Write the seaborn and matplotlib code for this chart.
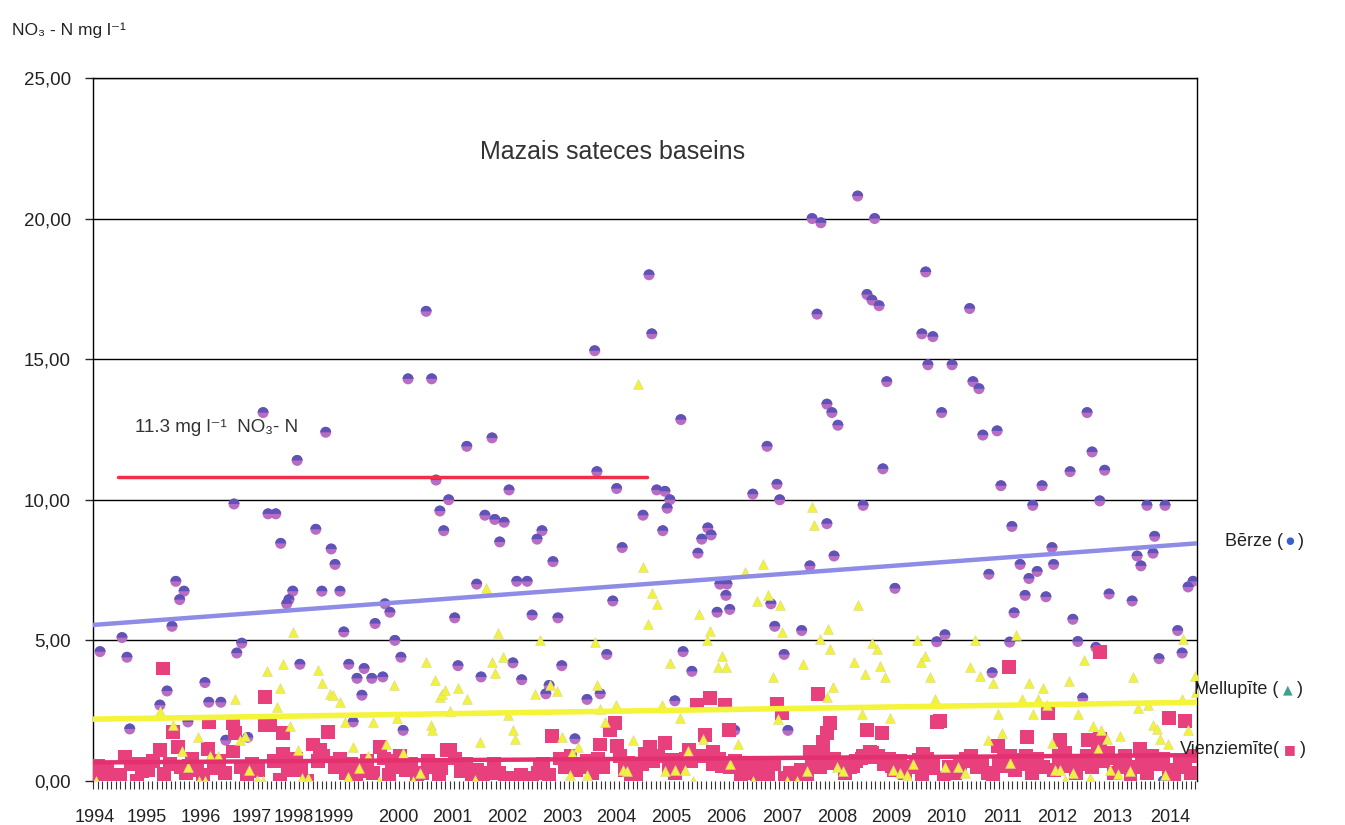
#!/usr/bin/env python3

import numpy as np
import pandas as pd
import seaborn as sns
import matplotlib
matplotlib.use("Agg")
import matplotlib.pyplot as plt
from matplotlib.markers import MarkerStyle
from matplotlib.ticker import MultipleLocator, FuncFormatter, FixedLocator

# Bērze (circles) - decimal year / NO3-N mg l-1
berze_year = [
    1994.13, 1994.53, 1994.62, 1994.67, 1995.22, 1995.35, 1995.44, 1995.51, 1995.58, 1995.66,
    1995.73, 1996.04, 1996.11, 1996.33, 1996.42, 1996.57, 1996.62, 1996.71, 1996.82, 1997.10,
    1997.19, 1997.33, 1997.42, 1997.53, 1997.57, 1997.64, 1997.72, 1997.77, 1998.06, 1998.17,
    1998.24, 1998.34, 1998.41, 1998.50, 1998.57, 1998.66, 1998.74, 1998.81, 1998.90, 1998.94,
    1999.08, 1999.14, 1999.28, 1999.32, 1999.41, 1999.50, 1999.61, 1999.65, 1999.74, 2000.07,
    2000.17, 2000.25, 2000.32, 2000.39, 2000.48, 2000.59, 2000.65, 2000.81, 2000.99, 2001.07,
    2001.14, 2001.27, 2001.32, 2001.41, 2001.49, 2001.58, 2001.65, 2001.72, 2001.81, 2001.91,
    2002.00, 2002.09, 2002.18, 2002.25, 2002.31, 2002.38, 2002.47, 2002.54, 2002.78, 2003.00,
    2003.14, 2003.18, 2003.24, 2003.36, 2003.47, 2003.54, 2003.64, 2004.02, 2004.13, 2004.18,
    2004.27, 2004.38, 2004.42, 2004.46, 2004.51, 2004.60, 2004.71, 2004.75, 2004.91, 2005.02,
    2005.09, 2005.20, 2005.26, 2005.37, 2005.42, 2005.53, 2005.55, 2005.60, 2005.69, 2006.02,
    2006.28, 2006.35, 2006.42, 2006.46, 2006.51, 2006.59, 2006.66, 2006.91, 2007.06, 2007.10,
    2007.19, 2007.26, 2007.37, 2007.37, 2007.46, 2007.50, 2007.57, 2007.93, 2008.03, 2008.10,
    2008.19, 2008.24, 2008.32, 2008.39, 2008.46, 2008.61, 2009.10, 2009.17, 2009.21, 2009.30,
    2009.37, 2009.46, 2009.52, 2009.65, 2009.97, 2010.03, 2010.14, 2010.21, 2010.32, 2010.38,
    2010.47, 2010.54, 2010.70, 2010.74, 2010.78, 2010.89, 2010.98, 2011.05, 2011.12, 2011.20,
    2011.29, 2011.36, 2011.47, 2011.50, 2011.80, 2011.85, 2011.94, 2012.03, 2012.11, 2012.20,
    2012.27, 2012.34, 2012.43, 2012.51, 2012.93, 2013.02, 2013.09, 2013.20, 2013.31, 2013.34,
    2013.42, 2013.53, 2013.76, 2013.84, 2013.95, 2014.04,
    2000.90, 2007.00, 2012.90, 2013.50, 2011.60, 2009.80,
]
berze_no3 = [
    4.60, 5.10, 4.40, 1.85, 2.70, 3.20, 5.50, 7.10, 6.45, 6.75,
    2.10, 3.50, 2.80, 2.80, 1.45, 9.85, 4.55, 4.90, 1.55, 13.10,
    9.50, 9.50, 8.45, 6.30, 6.45, 6.75, 11.40, 4.15, 8.95, 6.75,
    12.40, 8.25, 7.70, 6.75, 5.30, 4.15, 2.10, 3.65, 3.05, 4.00,
    3.65, 5.60, 3.70, 6.30, 6.00, 5.00, 4.40, 1.80, 14.30, 16.70,
    14.30, 10.70, 9.60, 8.90, 10.00, 5.80, 4.10, 11.90, 7.00, 3.70,
    9.45, 12.20, 9.30, 8.50, 9.20, 10.35, 4.20, 7.10, 3.60, 7.10,
    5.90, 8.60, 8.90, 3.10, 3.40, 7.80, 5.80, 4.10, 1.50, 2.90,
    15.30, 11.00, 3.10, 4.50, 6.40, 10.40, 8.30, 9.45, 18.00, 15.90,
    10.35, 8.90, 10.30, 9.70, 10.00, 2.85, 12.85, 4.60, 3.90, 8.10,
    8.60, 9.00, 8.75, 6.00, 7.00, 6.60, 7.00, 6.10, 1.80, 10.20,
    11.90, 6.30, 5.50, 10.55, 10.00, 4.50, 1.80, 5.35, 7.65, 20.00,
    16.60, 19.85, 13.40, 9.15, 13.10, 8.00, 12.65, 20.80, 9.80, 17.30,
    17.10, 20.00, 16.90, 11.10, 14.20, 6.85, 15.90, 18.10, 14.80, 15.80,
    4.95, 13.10, 5.20, 14.80, 16.80, 14.20, 13.95, 12.30, 7.35, 3.85,
    12.45, 10.50, 4.94, 9.05, 5.98, 7.70, 6.60, 7.20, 9.80, 7.45,
    10.50, 6.55, 8.30, 7.70, 11.00, 5.75, 4.96, 2.95, 13.10, 11.70,
    4.75, 9.96, 11.05, 6.65, 6.40, 8.00, 7.65, 9.80, 8.10, 8.70,
    4.35, 9.80, 5.35, 4.55, 6.90, 7.10,
    0.30, 0.10, 0.20, 0.00, 0.90, 0.40,
]

# Mellupīte (triangles)
mellupite_year = [
    1994.05, 1995.22, 1995.46, 1995.62, 1995.73, 1995.91, 1995.93, 1996.04, 1996.13, 1996.28,
    1996.59, 1996.68, 1996.77, 1996.84, 1996.99, 1997.10, 1997.17, 1997.35, 1997.41, 1997.46,
    1997.59, 1997.64, 1997.73, 1997.81, 1997.92, 1998.10, 1998.17, 1998.32, 1998.37, 1998.50,
    1998.59, 1998.64, 1998.74, 1998.85, 1999.01, 1999.10, 1999.21, 1999.34, 1999.48, 1999.54,
    1999.65, 1999.83, 1999.96, 2000.07, 2000.16, 2000.17, 2000.23, 2000.32, 2000.36, 2000.41,
    2000.50, 2000.65, 2000.81, 2000.96, 2001.05, 2001.16, 2001.27, 2001.32, 2001.38, 2001.47,
    2001.56, 2001.65, 2001.69, 2002.05, 2002.14, 2002.32, 2002.45, 2002.54, 2002.69, 2002.72,
    2002.83, 2003.00, 2003.14, 2003.18, 2003.24, 2003.33, 2003.53, 2003.65, 2003.73, 2003.84,
    2003.93, 2004.02, 2004.11, 2004.18, 2004.27, 2004.36, 2004.42, 2004.51, 2004.60, 2004.69,
    2004.78, 2004.84, 2004.93, 2005.04, 2005.11, 2005.18, 2005.24, 2005.38, 2005.46, 2005.53,
    2005.60, 2005.75, 2005.88, 2006.02, 2006.09, 2006.20, 2006.30, 2006.39, 2006.48, 2006.51,
    2006.55, 2006.64, 2006.82, 2006.93, 2007.01, 2007.10, 2007.13, 2007.24, 2007.37, 2007.39,
    2007.42, 2007.48, 2007.55, 2007.66, 2007.86, 2007.93, 2008.01, 2008.06, 2008.19, 2008.28,
    2008.34, 2008.43, 2008.52, 2008.57, 2008.70, 2008.83, 2008.94, 2009.01, 2009.08, 2009.15,
    2009.25, 2009.34, 2009.52, 2009.76, 2009.88, 2009.97, 2010.07, 2010.16, 2010.30, 2010.39,
    2010.48, 2010.56, 2010.70, 2010.81, 2010.92, 2011.05, 2011.12, 2011.21, 2011.30, 2011.38,
    2011.47, 2011.52, 2011.61, 2011.71, 2011.78, 2011.85, 2011.94, 2012.05, 2012.16, 2012.22,
    2012.31, 2012.36, 2012.47, 2012.53, 2012.67, 2012.71, 2012.89, 2012.94, 2013.03, 2013.22,
    2013.31, 2013.38, 2013.44, 2013.53, 2013.58, 2013.84, 2013.86, 2013.95, 2014.08, 2014.10,
]
mellupite_no3 = [
    0.00, 2.50, 2.00, 1.05, 0.50, 1.55, 0.00, 0.00, 0.90, 0.90,
    2.90, 1.45, 1.60, 0.40, 0.05, 0.00, 3.90, 2.65, 3.30, 4.15,
    1.95, 5.30, 1.10, 0.10, 0.10, 3.95, 3.50, 3.10, 3.05, 2.80,
    2.10, 0.15, 1.20, 0.45, 0.90, 2.10, 0.00, 1.30, 3.40, 2.25,
    1.00, 0.00, 0.30, 4.25, 2.00, 1.80, 3.60, 3.00, 3.10, 3.25,
    2.50, 3.30, 2.90, 0.05, 1.40, 6.85, 4.25, 3.85, 5.25, 4.40,
    2.35, 1.80, 1.50, 3.10, 5.00, 3.40, 3.20, 1.55, 0.20, 1.00,
    1.20, 0.20, 4.95, 3.40, 2.55, 2.10, 2.70, 0.40, 0.35, 1.45,
    14.10, 7.60, 5.60, 6.70, 6.30, 2.70, 0.35, 4.20, 0.40, 2.25,
    0.40, 1.05, 0.00, 5.95, 1.50, 5.00, 5.35, 4.05, 4.45, 4.05,
    0.60, 1.30, 7.45, 0.00, 6.40, 7.70, 6.60, 3.70, 2.20, 6.25,
    5.30, 0.00, 0.00, 4.15, 0.35, 9.75, 9.10, 5.05, 3.00, 5.40,
    4.70, 3.35, 0.50, 0.35, 4.25, 6.25, 2.40, 3.80, 4.90, 4.70,
    4.10, 3.70, 2.25, 0.40, 0.30, 0.20, 0.60, 5.00, 4.25, 4.45,
    3.70, 2.90, 0.50, 0.50, 0.30, 4.05, 5.00, 3.75, 1.45, 3.50,
    2.40, 1.70, 0.65, 5.20, 2.90, 3.50, 2.40, 2.90, 3.30, 2.70,
    1.35, 0.40, 0.40, 0.05, 3.55, 0.30, 2.40, 4.30, 0.10, 1.95,
    1.15, 1.80, 1.50, 0.40, 0.25, 1.60, 0.35, 3.70, 2.60, 2.70,
    2.00, 1.85, 1.50, 0.20, 1.30, 2.90, 5.05, 1.80, 3.75, 3.15,
]

# Vienziemīte (squares)
vienziemite_year = [
    1994.05, 1994.58, 1995.22, 1995.28, 1995.46, 1995.55, 1996.09, 1996.11, 1996.55, 1996.55,
    1996.59, 1997.13, 1997.13, 1997.22, 1997.46, 1997.46, 1998.01, 1998.13, 1998.28, 1999.23,
    2000.45, 2000.50, 2002.36, 2003.24, 2003.42, 2003.51, 2003.54, 2004.42, 2005.00, 2005.15,
    2005.24, 2005.29, 2005.51, 2005.58, 2006.46, 2006.55, 2007.06, 2007.21, 2007.30, 2007.37,
    2007.42, 2008.03, 2008.10, 2008.37, 2009.12, 2009.37, 2009.43, 2010.48, 2010.68, 2011.01,
    2011.40, 2011.61, 2012.12, 2012.34, 2012.34, 2013.07, 2013.60, 2013.89,
    1994.00, 1994.10, 1994.20, 1994.30, 1994.40, 1994.50, 1994.70, 1994.80, 1994.90, 1995.00,
    1995.10, 1995.30, 1995.40, 1995.60, 1995.70, 1995.80, 1995.90, 1996.00, 1996.20, 1996.30,
    1996.40, 1996.70, 1996.80, 1996.90, 1997.00, 1997.30, 1997.40, 1997.60, 1997.70, 1997.80,
    1997.90, 1998.10, 1998.20, 1998.40, 1998.50, 1998.60, 1998.70, 1998.80, 1998.90, 1999.00,
    1999.10, 1999.30, 1999.40, 1999.50, 1999.60, 1999.70, 1999.80, 1999.90, 2000.00, 2000.10,
    2000.20, 2000.30, 2000.60, 2000.70, 2000.80, 2000.90, 2001.00, 2001.10, 2001.30, 2001.40,
    2001.50, 2001.60, 2001.70, 2001.80, 2001.90, 2002.00, 2002.10, 2002.20, 2002.30, 2002.50,
    2002.60, 2002.70, 2002.80, 2002.90, 2003.00, 2003.10, 2003.20, 2003.30, 2003.60, 2003.70,
    2003.80, 2003.90, 2004.00, 2004.10, 2004.20, 2004.30, 2004.50, 2004.60, 2004.70, 2004.80,
    2004.90, 2005.10, 2005.30, 2005.40, 2005.60, 2005.70, 2005.80, 2005.90, 2006.00, 2006.10,
    2006.20, 2006.30, 2006.40, 2006.60, 2006.70, 2006.80, 2006.90, 2007.00, 2007.10, 2007.20,
    2007.30, 2007.50, 2007.60, 2007.70, 2007.80, 2007.90, 2008.00, 2008.20, 2008.30, 2008.40,
    2008.50, 2008.60, 2008.70, 2008.80, 2008.90, 2009.00, 2009.10, 2009.20, 2009.30, 2009.50,
    2009.60, 2009.70, 2009.80, 2009.90, 2010.00, 2010.10, 2010.20, 2010.30, 2010.40, 2010.50,
    2010.60, 2010.70, 2010.80, 2010.90, 2011.00, 2011.10, 2011.20, 2011.30, 2011.50, 2011.60,
    2011.70, 2011.80, 2011.90, 2012.00, 2012.10, 2012.20, 2012.30, 2012.40, 2012.50, 2012.60,
    2012.70, 2012.80, 2012.90, 2013.00, 2013.10, 2013.20, 2013.30, 2013.40, 2013.50, 2013.60,
    2013.70, 2013.80, 2013.90, 2014.00, 2014.05,
    1994.25, 1994.95, 1995.75, 1996.25, 1996.85, 1997.55, 1998.45, 1998.95, 1999.45, 2000.35,
    2000.75, 2001.25, 2002.15, 2002.65, 2003.05, 2003.75, 2004.05, 2004.15, 2004.55, 2004.85,
    2005.45, 2005.85, 2006.05, 2007.25, 2007.45, 2007.85, 2008.15, 2008.25, 2008.55, 2009.05,
    2009.25, 2009.95, 2010.65, 2010.95, 2011.15, 2011.65, 2012.15, 2012.45, 2012.75, 2013.35,
]
vienziemite_no3 = [
    0.10, 0.85, 1.10, 4.00, 1.75, 1.20, 1.15, 2.10, 1.05, 2.05,
    1.70, 3.00, 2.00, 2.00, 1.70, 0.95, 1.30, 1.10, 1.75, 1.20,
    1.10, 1.10, 1.60, 1.30, 1.80, 2.05, 1.25, 1.35, 2.70, 1.65,
    2.95, 1.05, 2.70, 1.80, 2.75, 2.40, 1.05, 3.10, 1.40, 1.70,
    2.05, 0.90, 1.80, 1.70, 0.95, 2.10, 2.15, 1.25, 4.05, 1.55,
    2.40, 1.45, 1.45, 4.60, 1.50, 1.15, 2.25, 2.15,
    0.50, 0.55, 0.30, 0.10, 0.00, 0.20, 0.60, 0.00, 0.35, 0.40,
    0.70, 0.25, 0.60, 0.50, 0.30, 0.80, 0.40, 0.20, 0.60, 0.70,
    0.30, 0.50, 0.10, 0.60, 0.40, 0.70, 0.05, 0.60, 0.80, 0.40,
    0.00, 0.70, 0.90, 0.50, 0.80, 0.30, 0.60, 0.10, 0.50, 0.70,
    0.30, 0.80, 0.20, 0.50, 0.90, 0.40, 0.60, 0.10, 0.30, 0.70,
    0.50, 0.20, 0.80, 0.35, 0.60, 0.20, 0.40, 0.10, 0.60, 0.30,
    0.00, 0.10, 0.05, 0.20, 0.05, 0.10, 0.30, 0.60, 0.20, 0.80,
    0.50, 0.90, 0.40, 0.60, 0.70, 0.30, 0.80, 0.50, 0.90, 0.40,
    0.10, 0.20, 0.60, 0.80, 0.70, 0.90, 0.50, 0.30, 0.60, 0.80,
    0.70, 0.90, 0.60, 0.80, 0.50, 0.70, 0.20, 0.60, 0.30, 0.10,
    0.50, 0.20, 0.60, 0.10, 0.30, 0.05, 0.40, 0.20, 0.70, 0.90,
    0.90, 0.80, 0.60, 0.30, 0.50, 0.70, 0.80, 1.00, 0.90, 0.60,
    0.80, 0.40, 0.70, 0.30, 0.50, 0.60, 0.20, 0.80, 0.60, 0.10,
    0.50, 0.30, 0.60, 0.80, 0.90, 0.50, 0.60, 0.30, 0.10, 0.60,
    0.80, 0.90, 0.40, 0.60, 0.90, 0.30, 0.80, 0.50, 0.40, 0.90,
    1.00, 0.60, 0.30, 0.60, 0.90, 0.50, 1.10, 0.70, 1.00, 0.30,
    0.60, 0.90, 0.10, 0.50, 0.70, 0.30, 0.90, 0.60, 0.80, 0.40,
    0.20, 0.70, 0.50, 0.30, 0.90,
    0.45, 0.60, 0.55, 0.45, 0.35, 0.40, 0.65, 0.35, 0.70, 0.45,
    0.50, 0.30, 0.45, 0.60, 0.50, 0.65, 0.95, 1.20, 0.75, 1.10,
    0.55, 0.45, 0.55, 0.50, 0.65, 0.55, 1.05, 0.85, 0.55, 0.75,
    0.45, 0.70, 0.55, 0.75, 0.60, 0.55, 0.65, 0.80, 0.50, 0.70,
]

# linear trend lines (start / end of record)
trend_years = [1994.0, 2014.1]
trend_berze = [5.55, 8.45]
trend_mellupite = [2.2, 2.8]
trend_vienziemite = [0.66, 0.92]

# drinking water limit line
limit_years = [1994.45, 2004.1]
limit_value = [10.8, 10.8]

# year labels sit where the original (category) axis printed them
year_labels = [str(y) for y in range(1994, 2015)]
year_label_pos = [1994.04, 1994.98, 1995.97, 1996.90, 1997.66, 1998.39, 1999.56, 2000.54,
                  2001.54, 2002.54, 2003.54, 2004.54, 2005.53, 2006.55, 2007.55, 2008.55,
                  2009.55, 2010.56, 2011.56, 2012.56, 2013.62]
y_ticks = [0, 5, 10, 15, 20, 25]


def main():
    sns.set_style("white")
    plt.rcParams['font.family'] = ['Liberation Sans', 'DejaVu Sans']

    berze = pd.DataFrame({"year": berze_year, "no3": berze_no3})
    mell = pd.DataFrame({"year": mellupite_year, "no3": mellupite_no3})
    vien = pd.DataFrame({"year": vienziemite_year, "no3": vienziemite_no3})
    trends = pd.DataFrame({"year": trend_years, "berze": trend_berze,
                           "mell": trend_mellupite, "vien": trend_vienziemite})
    limit = pd.DataFrame({"year": limit_years, "no3": limit_value})

    fig = plt.figure(figsize=(13.45, 8.25), dpi=100)
    ax = fig.add_axes([0.0691, 0.0533, 0.8208, 0.8522])

    for v in y_ticks[1:]:
        ax.axhline(v, color="black", lw=1.0, zorder=1)

    # circles: pink-ish base with bluish top half to mimic the shaded marker
    sns.scatterplot(data=berze, x="year", y="no3", ax=ax, marker="o", s=62,
                    color="#b86cc2", edgecolor="none", linewidth=0, zorder=3)
    sns.scatterplot(data=berze, x="year", y="no3", ax=ax,
                    marker=MarkerStyle("o", fillstyle="top"), s=62,
                    color="#5f52b8", edgecolor="none", linewidth=0, zorder=3)
    sns.scatterplot(data=vien, x="year", y="no3", ax=ax, marker="s", s=100,
                    color="#e8407c", edgecolor="none", linewidth=0, zorder=4)
    sns.scatterplot(data=mell, x="year", y="no3", ax=ax, marker="^", s=50,
                    color="#f2f23c", edgecolor="#d8d890", linewidth=0.4, zorder=5)

    sns.lineplot(data=trends, x="year", y="berze", ax=ax, color="#8e8ce6", lw=3.2, zorder=6)
    sns.lineplot(data=trends, x="year", y="mell", ax=ax, color="#f4f43a", lw=4.0, zorder=6)
    sns.lineplot(data=trends, x="year", y="vien", ax=ax, color="#e3306e", lw=3.2, zorder=6)
    sns.lineplot(data=limit, x="year", y="no3", ax=ax, color="#f0304a", lw=2.5, zorder=6)

    ax.set_xlim(1994, 2014.11)
    ax.set_ylim(0, 25)
    ax.xaxis.set_major_locator(FixedLocator(year_label_pos))
    ax.set_xticklabels(year_labels, fontsize=13, color="#222222")
    ax.xaxis.set_minor_locator(MultipleLocator(1 / 12))
    ax.set_yticks(y_ticks)
    ax.yaxis.set_major_formatter(FuncFormatter(lambda v, p: f"{v:.2f}".replace(".", ",")))
    ax.tick_params(axis="y", labelsize=13.5, labelcolor="#222222", length=6, width=1,
                   direction="out", pad=10, left=True)
    ax.tick_params(axis="x", which="major", length=0, pad=20, bottom=True)
    ax.tick_params(axis="x", which="minor", length=6, width=0.8, direction="out",
                   bottom=True, color="#333333")
    ax.set_xlabel("")
    ax.set_ylabel("")
    for side in ["left", "right", "top"]:
        ax.spines[side].set_visible(True)
        ax.spines[side].set_color("black")
        ax.spines[side].set_linewidth(1.0)
    ax.spines["bottom"].set_visible(False)

    ax.text(0.471, 0.895, "Mazais sateces baseins", transform=ax.transAxes,
            ha="center", va="center", fontsize=18, color="#333333")
    ax.text(0.038, 0.503, "11.3 mg l\u207b\u00b9  NO\u2083- N", transform=ax.transAxes,
            ha="left", va="center", fontsize=13.5, color="#333333")

    fig.text(0.009, 0.963, "NO\u2083 - N mg l\u207b\u00b9", ha="left", va="center",
             fontsize=12.5, color="#222222")

    # series names on the right, symbol chained inside the parentheses
    right_labels = [
        ("Bērze (", "\u25cf", "#3a5fd0", 7, 0.911, 0.344),
        ("Mellupīte (", "\u25b2", "#40a090", 9, 0.888, 0.164),
        ("Vienziemīte(", "\u25a0", "#e8407c", 9, 0.877, 0.091),
    ]
    for name, sym, col, sz, fx, fy in right_labels:
        t = fig.text(fx, fy, name, ha="left", va="center", fontsize=13, color="#222222")
        a = ax.annotate(" " + sym + " ", xy=(1, 0.5), xycoords=t, ha="left", va="center",
                        fontsize=sz, color=col, family=["DejaVu Sans"], annotation_clip=False)
        ax.annotate(")", xy=(1, 0.5), xycoords=a, ha="left", va="center",
                    fontsize=13, color="#222222", annotation_clip=False)

    fig.savefig("out.png", dpi=100, facecolor="white")
    plt.close(fig)


if __name__ == '__main__':
    main()
